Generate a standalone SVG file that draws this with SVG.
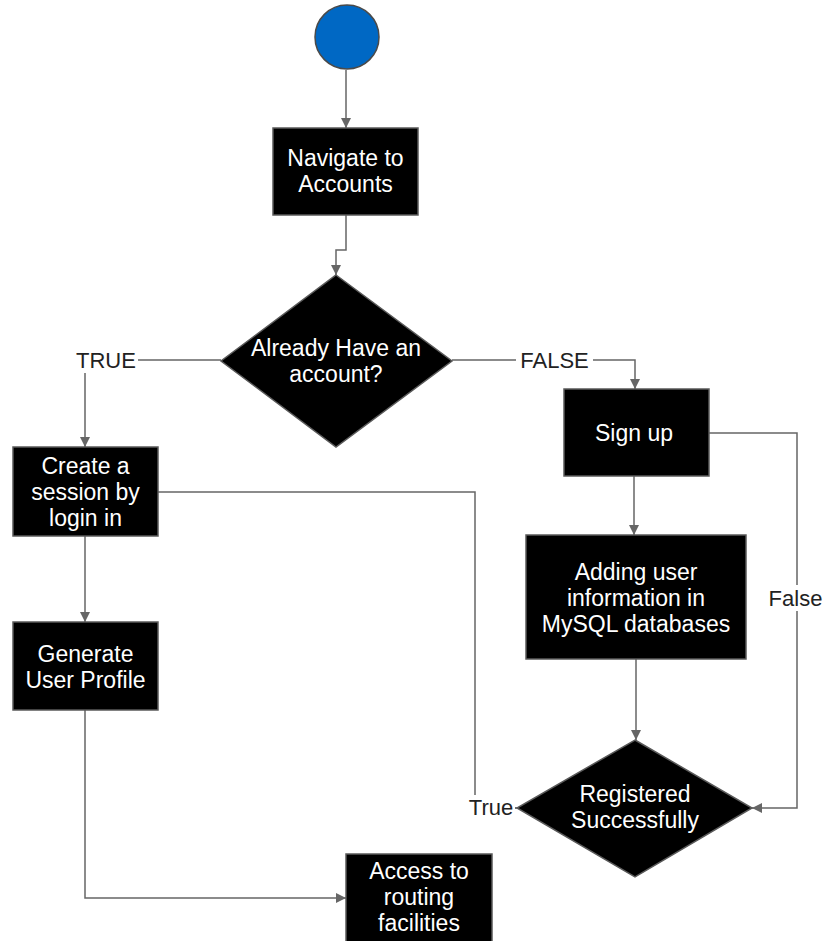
<svg xmlns="http://www.w3.org/2000/svg" width="825" height="941" viewBox="0 0 825 941">
  <style>
    .node { fill: #000; stroke: #5a5a5a; stroke-width: 1.5; }
    .label { font-family: "Liberation Sans", Arial, sans-serif; font-size: 23px; fill: #fff; text-anchor: middle; }
    .edge { fill: none; stroke: #666; stroke-width: 1.5; }
    .tag { font-family: "Liberation Sans", Arial, sans-serif; font-size: 22px; fill: #222; text-anchor: middle; }
    .tagbg { fill: #fff; }
  </style>
  <defs>
    <marker id="arrow" viewBox="0 0 10 10" refX="10" refY="5" markerWidth="10" markerHeight="10" markerUnits="userSpaceOnUse" orient="auto">
      <path d="M0,0 L10,5 L0,10 z" fill="#666"/>
    </marker>
  </defs>
  <rect width="825" height="941" fill="#fff"/>

  <!-- connectors -->
  <g id="connectors">
    <path class="edge" d="M346,70 V128" marker-end="url(#arrow)"/>
    <path class="edge" d="M346,215 V250 H336 V275" marker-end="url(#arrow)"/>
    <path class="edge" d="M221,360 H85 V447" marker-end="url(#arrow)"/>
    <path class="edge" d="M452,360 H635 V389" marker-end="url(#arrow)"/>
    <path class="edge" d="M634,476 V535" marker-end="url(#arrow)"/>
    <path class="edge" d="M636,659 V740" marker-end="url(#arrow)"/>
    <path class="edge" d="M709,433 H797 V808 H752" marker-end="url(#arrow)"/>
    <path class="edge" d="M158,492 H475 V808 H517" marker-end="url(#arrow)"/>
    <path class="edge" d="M85,536 V622" marker-end="url(#arrow)"/>
    <path class="edge" d="M85,710 V898 H346" marker-end="url(#arrow)"/>

    <rect class="tagbg" x="74" y="347" width="64" height="26"/>
    <text class="tag" x="106" y="368">TRUE</text>
    <rect class="tagbg" x="516" y="347" width="77" height="26"/>
    <text class="tag" x="554.5" y="368">FALSE</text>
    <rect class="tagbg" x="766" y="585" width="58" height="26"/>
    <text class="tag" x="795.5" y="606">False</text>
    <rect class="tagbg" x="467" y="795" width="48" height="26"/>
    <text class="tag" x="491" y="815">True</text>
  </g>

  <g id="start">
    <circle cx="347" cy="37" r="32" fill="#0068c4" stroke="#4a4a4a" stroke-width="1.5"/>
  </g>

  <g id="navigate">
    <rect class="node" x="273" y="128" width="145" height="87"/>
    <text class="label" x="345.5" y="165.5">Navigate to</text>
    <text class="label" x="345.5" y="191.5">Accounts</text>
  </g>

  <g id="have-account">
    <polygon class="node" points="336,275 452,361 336,447 221,361"/>
    <text class="label" x="336" y="356">Already Have an</text>
    <text class="label" x="336" y="382">account?</text>
  </g>

  <g id="create-session">
    <rect class="node" x="13" y="447" width="145" height="89"/>
    <text class="label" x="85.5" y="473.5">Create a</text>
    <text class="label" x="85.5" y="499.5">session by</text>
    <text class="label" x="85.5" y="525.5">login in</text>
  </g>

  <g id="generate-profile">
    <rect class="node" x="13" y="622" width="145" height="88"/>
    <text class="label" x="85.5" y="662">Generate</text>
    <text class="label" x="85.5" y="688">User Profile</text>
  </g>

  <g id="sign-up">
    <rect class="node" x="564" y="389" width="145" height="87"/>
    <text class="label" x="634" y="441">Sign up</text>
  </g>

  <g id="add-user">
    <rect class="node" x="526" y="535" width="220" height="124"/>
    <text class="label" x="636" y="580">Adding user</text>
    <text class="label" x="636" y="606">information in</text>
    <text class="label" x="636" y="632">MySQL databases</text>
  </g>

  <g id="registered">
    <polygon class="node" points="635,740 752,808 635,877 517,808"/>
    <text class="label" x="635" y="802">Registered</text>
    <text class="label" x="635" y="828">Successfully</text>
  </g>

  <g id="routing">
    <rect class="node" x="346" y="854" width="146" height="90"/>
    <text class="label" x="419" y="879">Access to</text>
    <text class="label" x="419" y="905">routing</text>
    <text class="label" x="419" y="931">facilities</text>
  </g>
</svg>
